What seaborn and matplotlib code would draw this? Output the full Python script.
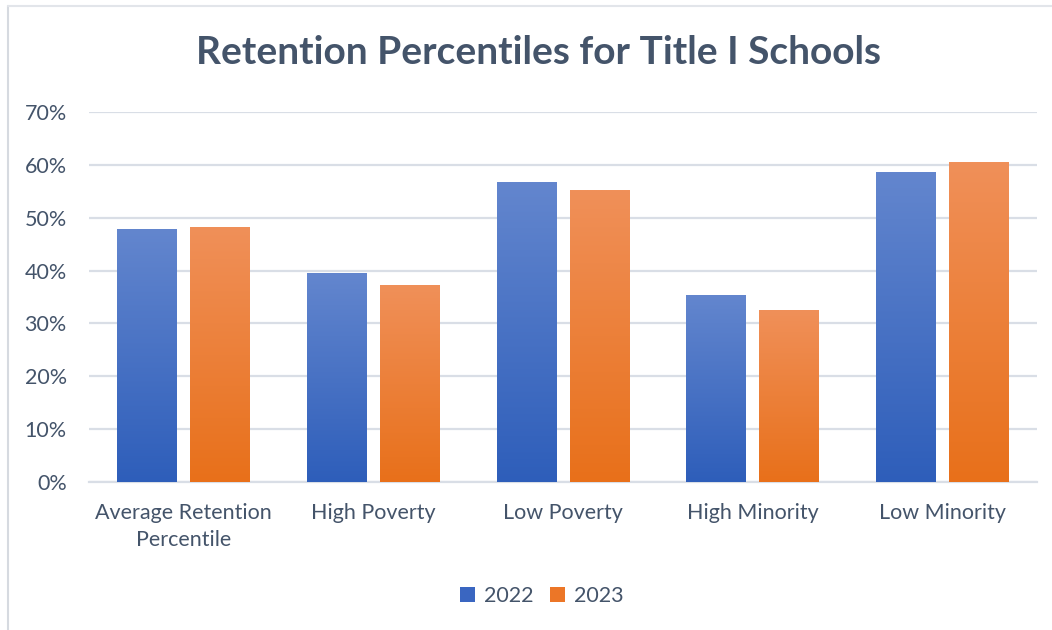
import numpy as np
import pandas as pd
import matplotlib
matplotlib.use("Agg")
import matplotlib.pyplot as plt
from matplotlib.colors import LinearSegmentedColormap
from matplotlib.patches import Patch
from matplotlib.lines import Line2D
from matplotlib.ticker import PercentFormatter
import seaborn as sns

categories = ["Average Retention\nPercentile", "High Poverty", "Low Poverty",
              "High Minority", "Low Minority"]
years = ["2022", "2023"]
values_2022 = [0.477, 0.395, 0.566, 0.352, 0.585]
values_2023 = [0.482, 0.371, 0.551, 0.324, 0.604]

df = pd.DataFrame({
    "Category": categories * 2,
    "Year": [years[0]] * len(categories) + [years[1]] * len(categories),
    "Value": values_2022 + values_2023,
})

text_color = "#44546A"
grid_color = "#D9DEE6"
# (bottom, top) gradient colours for each series
gradients = {"2022": ("#2E5EBA", "#6386CE"), "2023": ("#E8701A", "#F09059")}
legend_colors = {"2022": "#3A66C1", "2023": "#EC7627"}

sns.set_theme(style="white")
plt.rcParams["font.family"] = ["Lato", "DejaVu Sans"]

fig = plt.figure(figsize=(10.52, 6.30), dpi=100)
ax = fig.add_axes([0.0846, 0.2349, 0.9011, 0.5873])

sns.barplot(data=df, x="Category", y="Value", hue="Year", order=categories,
            hue_order=years, palette=[legend_colors[y] for y in years],
            width=0.77, gap=0.18, ax=ax, legend=False, zorder=3)

ax.set_ylim(0, 0.70)

# vertical gradient fill inside every bar
for i, bar in enumerate(ax.patches):
    year = years[i // len(categories)]
    bottom_c, top_c = gradients[year]
    cmap = LinearSegmentedColormap.from_list("g" + year, [bottom_c, top_c])
    x0, y0 = bar.get_x(), bar.get_y()
    w, h = bar.get_width(), bar.get_height()
    grad = np.linspace(0, 1, 256).reshape(-1, 1)
    ax.imshow(grad, cmap=cmap, origin="lower", aspect="auto",
              extent=(x0, x0 + w, y0, y0 + h), zorder=3)
    bar.set_visible(False)

ax.set_xlim(-0.5, len(categories) - 0.5)
ax.set_ylim(0, 0.70)

ax.yaxis.set_major_formatter(PercentFormatter(1.0, decimals=0))
ax.set_yticks(np.arange(0, 0.71, 0.10))
ax.grid(axis="y", color=grid_color, linewidth=1.6, zorder=0)
ax.set_axisbelow(True)
for side in ["top", "right", "left"]:
    ax.spines[side].set_visible(False)
ax.spines["bottom"].set_color(grid_color)
ax.spines["bottom"].set_linewidth(1.6)
ax.tick_params(axis="y", length=0, pad=16, labelsize=15.5, labelcolor=text_color)
ax.tick_params(axis="x", length=0, pad=15, labelsize=15.5, labelcolor=text_color)
for lbl in ax.get_xticklabels():
    lbl.set_linespacing(1.45)
ax.set_xlabel("")
ax.set_ylabel("")

fig.text(0.512, 0.916, "Retention Percentiles for Title I Schools",
         ha="center", va="center", fontsize=28, fontweight="bold",
         color=text_color)

handles = [Patch(facecolor=legend_colors[y], edgecolor="none", label=y) for y in years]
fig.legend(handles=handles, loc="center", bbox_to_anchor=(0.515, 0.054), ncol=2,
           frameon=False, fontsize=15.5, labelcolor=text_color,
           handlelength=0.7, handleheight=0.7, handletextpad=0.4,
           columnspacing=0.8)

# chart frame (left and top edges)
fig.add_artist(Line2D([0.008, 0.008], [0.0, 0.991], color="#D6DAE0", lw=1.5,
                      transform=fig.transFigure))
fig.add_artist(Line2D([0.008, 1.0], [0.991, 0.991], color="#E2E5EA", lw=1.5,
                      transform=fig.transFigure))

fig.savefig("out.png", dpi=100, facecolor="white")
